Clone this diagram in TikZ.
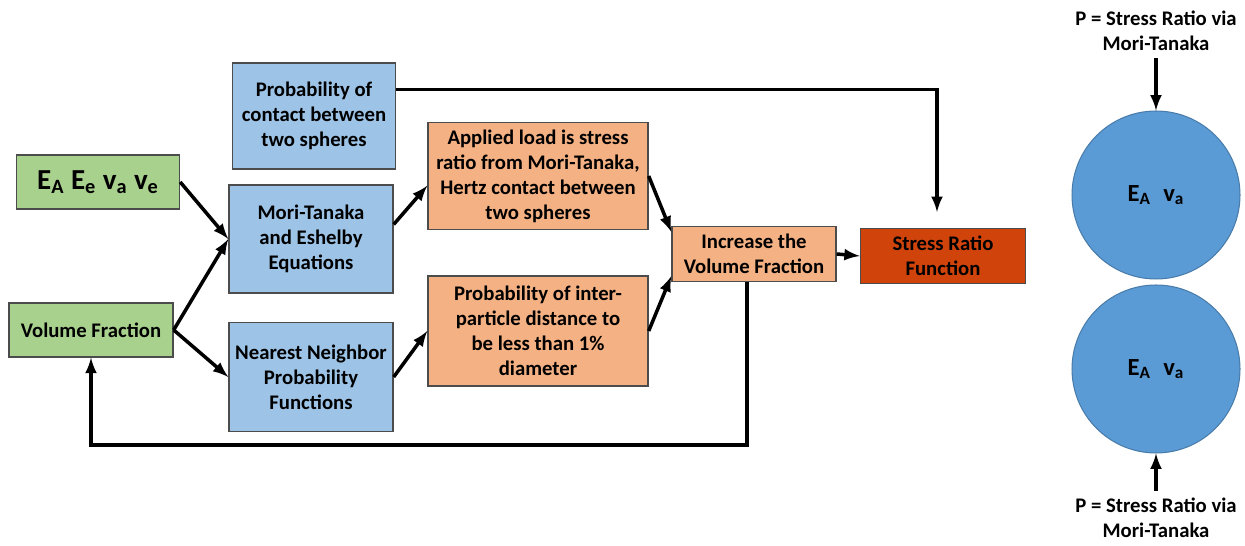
\documentclass[tikz,border=0pt]{standalone}
\usepackage{fontspec}
\setmainfont{Carlito}
\usetikzlibrary{positioning}

\definecolor{inputgreen}{HTML}{A9D18E}
\definecolor{modelblue}{HTML}{9DC3E6}
\definecolor{steporange}{HTML}{F4B183}
\definecolor{resultred}{HTML}{D0440C}
\definecolor{sphereblue}{HTML}{5B9BD5}

\begin{document}
\begin{tikzpicture}[x=0.02cm,y=-0.02cm,>=latex,line width=2pt,
    box/.style={draw=black!70,line width=0.8pt,align=center,inner sep=2pt,
      font=\bfseries\fontsize{11.8}{14.2}\selectfont},
    sphere/.style={circle,draw=sphereblue!80!black,line width=0.6pt,fill=sphereblue,
      minimum size=3.36cm,font=\bfseries\fontsize{14}{16}\selectfont},
    load/.style={align=center,font=\bfseries\fontsize{11.8}{14.2}\selectfont}]
   \useasboundingbox (0,0) rectangle (1245,546);

   % inputs
   \node[box, fill=inputgreen, minimum width=3.26cm, minimum height=1.08cm] (ea) at (98,182)
      {\fontsize{16.5}{18}\selectfont E\textsubscript{A} E\textsubscript{e} v\textsubscript{a} v\textsubscript{e}};
   \node[box, fill=inputgreen, minimum width=3.28cm, minimum height=1.08cm] (vf) at (91,330) {Volume Fraction};

   % models
   \node[box, fill=modelblue, minimum width=3.26cm, minimum height=2.12cm] (pc) at (314,116)
      {Probability of\\contact between\\two spheres};
   \node[box, fill=modelblue, minimum width=3.28cm, minimum height=2.16cm] (mt) at (311,239)
      {Mori-Tanaka\\and Eshelby\\Equations};
   \node[box, fill=modelblue, minimum width=3.28cm, minimum height=2.18cm] (nn) at (311,377)
      {Nearest Neighbor\\Probability\\Functions};

   % steps
   \node[box, fill=steporange, minimum width=4.4cm, minimum height=2.14cm] (al) at (538,176)
      {Applied load is stress\\ratio from Mori-Tanaka,\\Hertz contact between\\two spheres};
   \node[box, fill=steporange, minimum width=4.4cm, minimum height=2.2cm] (pi) at (538,331)
      {Probability of inter-\\particle distance to\\be less than 1\%\\diameter};
   \node[box, fill=steporange, minimum width=3.28cm, minimum height=1.1cm] (inc) at (754,254)
      {Increase the\\Volume Fraction};
   \node[box, fill=resultred, minimum width=3.3cm, minimum height=1.1cm] (srf) at (943,256)
      {Stress Ratio\\Function};

   % spheres
   \node[sphere] (topc) at (1156,195) {E\textsubscript{A}\enspace v\textsubscript{a}};
   \node[sphere] (botc) at (1156,369) {E\textsubscript{A}\enspace v\textsubscript{a}};
   \node[load] (ptop) at (1156,31) {P = Stress Ratio via\\Mori-Tanaka};
   \node[load] (pbot) at (1156,518) {P = Stress Ratio via\\Mori-Tanaka};

   \coordinate (srfin) at (937,212);
   \coordinate (back) at (91,445);

    \path[->]
    (ea.east)  edge (mt.west)
    (vf.east)  edge (mt.west)
    (vf.east)  edge (nn.west)
    (mt.10)    edge (al.185)
    (nn.east)  edge (pi.west)
    (al.east)  edge (inc.165)
    (pi.east)  edge (inc.195)
    (inc.east) edge (srf.west)

    (ptop.south) edge (topc.north)
    (pbot.north) edge (botc.south);

    \draw[->] (pc.18) -| (srfin);
    \draw[->] ([xshift=-4]inc.south) |- (back) -- (vf.south);
\end{tikzpicture}
\end{document}
